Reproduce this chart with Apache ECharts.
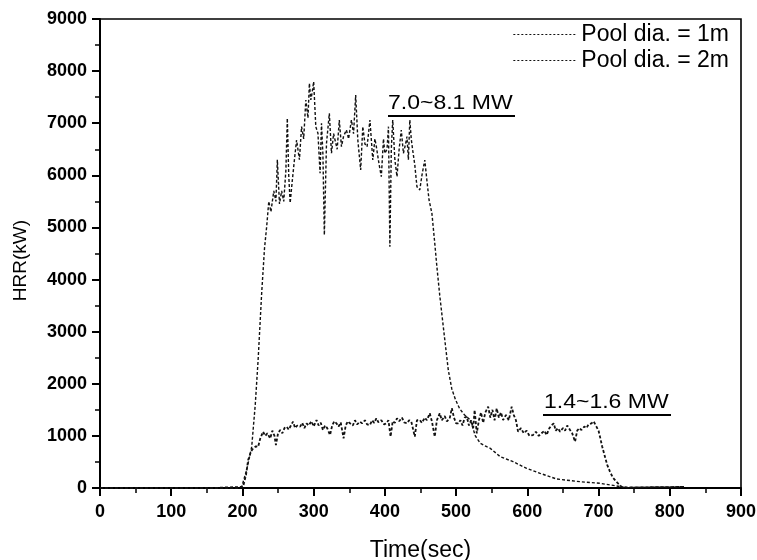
<!DOCTYPE html>
<html>
<head>
<meta charset="utf-8">
<script src="https://cdn.jsdelivr.net/npm/echarts@6/dist/echarts.min.js"></script>
<style>html,body{margin:0;padding:0;background:#fff}#c{width:757px;height:560px}</style>
</head>
<body>
<div id="c"></div>
<script>
// ---- Data ----
var seriesNames = ['Pool dia. = 1m', 'Pool dia. = 2m'];
var xTicks = [0, 100, 200, 300, 400, 500, 600, 700, 800, 900];
var yTicks = [0, 1000, 2000, 3000, 4000, 5000, 6000, 7000, 8000, 9000];

var time1m = [0,195,201,205,208,212,215,219,222,225,229,232,235,239,242,245,247,250,253,256,259,262,265,268,271,274,277,281,284,287,290,293,297,300,304,307,310,313,316,319,323,326,329,332,335,338,342,345,348,351,355,358,361,365,368,372,375,379,382,385,388,391,395,399,402,405,408,411,414,417,420,424,427,431,434,437,442,445,449,452,456,459,463,466,470,473,477,480,484,487,491,494,497,500,503,506,509,512,515,518,521,524,526,529,532,535,538,541,545,548,551,554,557,560,563,566,570,574,578,581,584,587,591,595,599,603,608,612,616,620,624,627,631,634,637,640,643,646,650,653,656,660,663,667,670,673,676,680,683,686,690,693,697,700,702,705,709,712,716,720,725,732,740,780,820];
var hrr1m = [0,0,30,250,537,700,761,800,790,950,1081,1000,1050,953,1100,1000,825,1050,1113,1050,1150,1177,1120,1200,1273,1150,1200,1177,1250,1150,1241,1200,1280,1180,1305,1200,1250,1113,1200,1150,1017,1200,1280,1241,1180,1260,953,1200,1280,1241,1200,1300,1220,1273,1240,1300,1220,1209,1300,1250,1337,1260,1300,1220,1241,1300,985,1280,1250,1337,1280,1350,1260,1241,1300,1280,985,1300,1305,1250,1350,1300,1433,1280,985,1300,1433,1300,1380,1280,1337,1529,1350,1241,1241,1300,1200,1350,1369,1200,1300,1150,1497,1049,1300,1450,1250,1450,1561,1350,1500,1300,1529,1350,1450,1305,1400,1300,1561,1400,1300,1081,1150,1050,1100,1000,1017,1080,1000,1050,1100,1017,1150,1200,1241,1100,1150,1081,1150,1100,1200,1113,1050,889,1100,1150,1113,1180,1150,1220,1241,1280,1177,1100,985,800,601,450,313,200,121,25,10,15,20];

var time2m = [0,150,199,206,213,218,222,227,231,234,237,240,244,247,249,252,255,258,261,263,265,267,270,273,276,280,283,286,289,292,294,296,298,300,303,306,309,311,313,315,318,320,322,325,328,330,333,336,339,342,346,349,353,356,359,362,366,369,372,375,379,383,386,388,392,395,398,400,403,405,407,409,411,414,417,420,423,426,429,431,433,435,437,439,442,445,449,452,456,459,462,466,470,473,477,482,489,494,499,505,512,520,527,534,543,548,562,580,599,618,641,674,702,725,738,760,790,820];
var hrr2m = [0,0,25,350,790,1600,2456,3740,4600,5015,5500,5300,5700,5500,6300,5450,5700,5500,6100,7094,6000,5470,5900,6300,6678,6300,6934,6700,7446,7100,7766,7446,7600,7797,6934,6806,6039,6998,6400,4855,6614,6900,7190,6423,6800,6678,6500,7062,6550,6750,6870,6700,7062,6800,7542,6678,6102,6934,6600,6550,7062,6294,6700,6550,6200,5975,6700,6423,6500,6934,4631,6500,7062,6300,5975,6500,6870,6423,6600,6742,6300,7062,6700,6486,6200,5782,5720,6000,6294,5900,5527,5272,4700,4247,3700,3095,2265,1900,1700,1520,1400,1305,1000,857,792,761,601,505,377,281,173,121,90,40,5,15,20,25];

var annotations = ['7.0~8.1 MW', '1.4~1.6 MW'];

function pairs(xs, ys) { return xs.map(function (x, i) { return [x, ys[i]]; }); }

var FONT = '"Liberation Sans", Arial, sans-serif';
var chart = echarts.init(document.getElementById('c'), null, {renderer: 'canvas'});
var option = {
  backgroundColor: '#fff',
  animation: false,
  grid: {left: 100, right: 16, top: 19, bottom: 72, containLabel: false, outerBoundsMode: 'none',
    show: true, borderColor: '#000', borderWidth: 1.6, backgroundColor: 'transparent'},
  legend: {
    data: seriesNames,
    orient: 'vertical',
    right: 23, top: 18,
    align: 'left',
    itemWidth: 63, itemHeight: 14, itemGap: 3,
    textStyle: {fontFamily: FONT, fontSize: 23, color: '#000', padding: [0,0,0,0]},
    itemStyle: {opacity: 0, borderWidth: 0},
    lineStyle: {width: 1, type: [2, 2]}
  },
  xAxis: {
    type: 'value', min: 0, max: 900, interval: 100,
    name: 'Time(sec)', nameLocation: 'middle', nameGap: 51,
    nameTextStyle: {fontFamily: FONT, fontSize: 23, color: '#000'},
    axisLine: {show: true, onZero: false, lineStyle: {color: '#000', width: 2}},
    axisTick: {show: true, inside: false, length: 8, lineStyle: {color: '#000', width: 2}},
    minorTick: {show: true, splitNumber: 2, length: 5, lineStyle: {color: '#000', width: 1.5}},
    splitLine: {show: false},
    axisLabel: {margin: 15, fontFamily: FONT, fontSize: 18, fontWeight: 'bold', color: '#000',
      formatter: function (v) { return xTicks.indexOf(v) >= 0 ? String(v) : ''; }}
  },
  yAxis: {
    type: 'value', min: 0, max: 9000, interval: 1000,
    name: 'HRR(kW)', nameLocation: 'middle', nameGap: 70,
    nameTextStyle: {fontFamily: FONT, fontSize: 19, color: '#000', padding: [0, 14, 0, 0]},
    axisLine: {show: true, onZero: false, lineStyle: {color: '#000', width: 2}},
    axisTick: {show: true, inside: false, length: 8, lineStyle: {color: '#000', width: 2}},
    minorTick: {show: true, splitNumber: 2, length: 5, lineStyle: {color: '#000', width: 1.5}},
    splitLine: {show: false},
    axisLabel: {margin: 13, fontFamily: FONT, fontSize: 18, fontWeight: 'bold', color: '#000',
      formatter: function (v) { return yTicks.indexOf(v) >= 0 ? String(v) : ''; }}
  },
  series: [
    {name: seriesNames[0], type: 'line', data: pairs(time1m, hrr1m), symbol: 'none',
      lineStyle: {color: '#111', width: 1.8, type: [3, 2]}, itemStyle: {color: '#111'}},
    {name: seriesNames[1], type: 'line', data: pairs(time2m, hrr2m), symbol: 'none',
      lineStyle: {color: '#111', width: 1.4, type: [3, 2]}, itemStyle: {color: '#111'}}
  ],
  graphic: [
    {type: 'text', x: 388, y: 93, scaleX: 1.15, style: {text: annotations[0], font: '20px ' + FONT, fill: '#000'}},
    {type: 'line', shape: {x1: 388, y1: 116, x2: 515, y2: 116}, style: {stroke: '#000', lineWidth: 2}},
    {type: 'text', x: 544, y: 392, scaleX: 1.15, style: {text: annotations[1], font: '20px ' + FONT, fill: '#000'}},
    {type: 'line', shape: {x1: 543, y1: 415, x2: 671, y2: 415}, style: {stroke: '#000', lineWidth: 2}}
  ]
};
chart.setOption(option);
</script>
</body>
</html>
